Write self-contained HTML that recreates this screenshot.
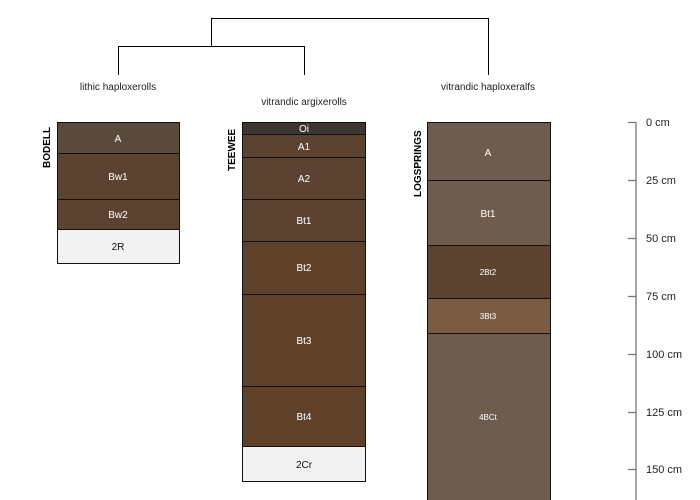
<!DOCTYPE html>
<html><head><meta charset="utf-8"><style>
html,body{margin:0;padding:0;background:#fff;width:700px;height:500px;overflow:hidden}
text{font-family:"Liberation Sans",sans-serif}
</style></head><body>
<svg width="700" height="500" viewBox="0 0 700 500" xmlns="http://www.w3.org/2000/svg">
<g stroke="#000" stroke-width="1" fill="none">
<path d="M211.5 46V18.5H488.5V75"/>
<path d="M118.5 75V46.5H304.5V75"/>
</g>
<g font-size="10" fill="#222" text-anchor="middle">
<text x="118" y="90">lithic haploxerolls</text>
<text x="304" y="105">vitrandic argixerolls</text>
<text x="488" y="90">vitrandic haploxeralfs</text>
</g>
<g font-size="10" font-weight="bold" fill="#000">
<text transform="translate(50,168) rotate(-90)">BODELL</text>
<text transform="translate(235,171) rotate(-90)">TEEWEE</text>
<text transform="translate(421,197) rotate(-90)">LOGSPRINGS</text>
</g>
<g stroke="#111" stroke-width="1">
<rect x="57.5" y="122.5" width="122" height="31" fill="#5a4a3c"/>
<rect x="57.5" y="153.5" width="122" height="46" fill="#5c4331"/>
<rect x="57.5" y="199.5" width="122" height="30" fill="#5c4331"/>
<rect x="57.5" y="229.5" width="122" height="34" fill="#f2f2f2"/>

<rect x="242.5" y="122.5" width="123" height="12" fill="#3e3632"/>
<rect x="242.5" y="134.5" width="123" height="23" fill="#5c4331"/>
<rect x="242.5" y="157.5" width="123" height="42" fill="#5c4331"/>
<rect x="242.5" y="199.5" width="123" height="42" fill="#5c4331"/>
<rect x="242.5" y="241.5" width="123" height="53" fill="#5f4028"/>
<rect x="242.5" y="294.5" width="123" height="92" fill="#5f4028"/>
<rect x="242.5" y="386.5" width="123" height="60" fill="#5f4028"/>
<rect x="242.5" y="446.5" width="123" height="35" fill="#f2f2f2"/>

<rect x="427.5" y="122.5" width="123" height="58" fill="#6e5d4e"/>
<rect x="427.5" y="180.5" width="123" height="65" fill="#6e5d4e"/>
<rect x="427.5" y="245.5" width="123" height="53" fill="#5c4331"/>
<rect x="427.5" y="298.5" width="123" height="35" fill="#7a5c44"/>
<rect x="427.5" y="333.5" width="123" height="170" fill="#6e5d4e"/>
</g>
<g font-size="10" fill="#fff" text-anchor="middle">
<text x="118" y="142">A</text>
<text x="118" y="180">Bw1</text>
<text x="118" y="218">Bw2</text>
<text x="118" y="250" fill="#111">2R</text>
<text x="304" y="132">Oi</text>
<text x="304" y="150">A1</text>
<text x="304" y="182">A2</text>
<text x="304" y="224">Bt1</text>
<text x="304" y="271">Bt2</text>
<text x="304" y="344">Bt3</text>
<text x="304" y="420">Bt4</text>
<text x="304" y="468" fill="#111">2Cr</text>
<text x="488" y="156">A</text>
<text x="488" y="217">Bt1</text>
<text x="488" y="275" font-size="8">2Bt2</text>
<text x="488" y="319" font-size="8">3Bt3</text>
<text x="488" y="420" font-size="8">4BCt</text>
</g>
<g stroke="#777" stroke-width="1.3">
<line x1="636" y1="122" x2="636" y2="500"/>
<line x1="628" y1="122.5" x2="636" y2="122.5"/>
<line x1="628" y1="180.5" x2="636" y2="180.5"/>
<line x1="628" y1="238.5" x2="636" y2="238.5"/>
<line x1="628" y1="296.5" x2="636" y2="296.5"/>
<line x1="628" y1="354.5" x2="636" y2="354.5"/>
<line x1="628" y1="412.5" x2="636" y2="412.5"/>
<line x1="628" y1="469.5" x2="636" y2="469.5"/>
</g>
<g font-size="11" fill="#222">
<text x="646" y="126">0 cm</text>
<text x="646" y="184">25 cm</text>
<text x="646" y="242">50 cm</text>
<text x="646" y="300">75 cm</text>
<text x="646" y="358">100 cm</text>
<text x="646" y="416">125 cm</text>
<text x="646" y="473">150 cm</text>
</g>
</svg>
</body></html>
